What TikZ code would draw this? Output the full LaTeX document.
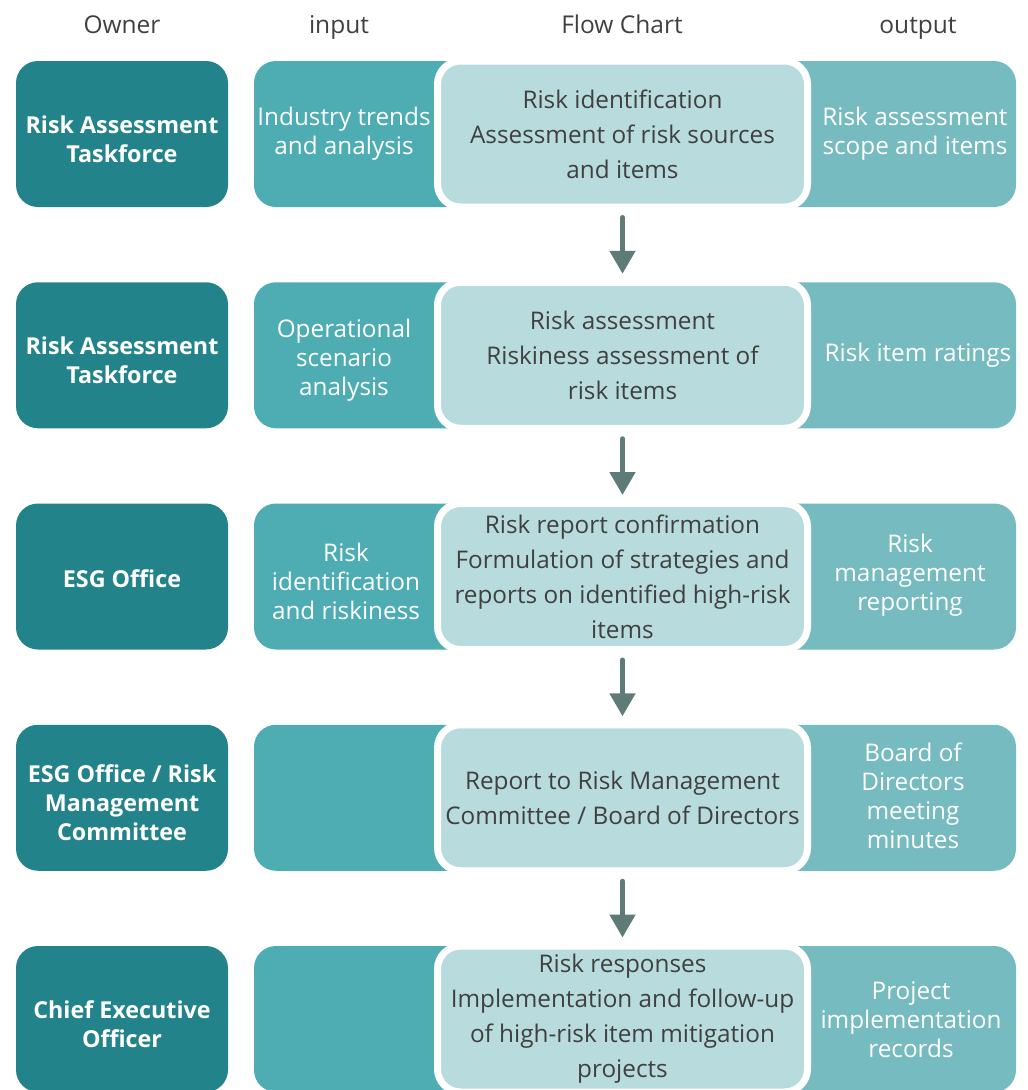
\documentclass[tikz,border=0pt]{standalone}
\usepackage{fontspec}
\setmainfont{Open Sans}
\usetikzlibrary{arrows.meta}
\definecolor{ownercol}{HTML}{23838A}
\definecolor{incol}{HTML}{4DADB3}
\definecolor{outcol}{HTML}{76BBBF}
\definecolor{flowcol}{HTML}{B8DBDD}
\definecolor{txtcol}{HTML}{404040}
\definecolor{arrcol}{HTML}{5E7B78}
\tikzset{
  x=1pt, y=-1pt,
  header/.style={text=txtcol, font=\fontsize{24.5}{28}\selectfont, inner sep=0pt, anchor=base},
  ownertext/.style={text=white, align=center, inner sep=0pt,
    font=\fontsize{23.3}{29}\selectfont\bfseries},
  sidetext/.style={text=white, align=center, inner sep=0pt,
    font=\fontsize{24.3}{29}\selectfont},
  flowbox/.style={fill=flowcol, draw=white, line width=7pt, rounded corners=23pt,
    minimum width=370pt, minimum height=146pt, inner sep=0pt, text=txtcol,
    align=center, font=\fontsize{24.3}{35}\selectfont},
  flowarrow/.style={draw=arrcol, line width=5pt, line cap=round,
    -{Triangle[length=23pt,width=25pt]}, shorten <=7pt, shorten >=5pt},
}
\begin{document}
\begin{tikzpicture}
\useasboundingbox (0,0) rectangle (1028,1090);
\clip (0,0) rectangle (1028,1090);

% column headers
\node[header] (hOwner) at (122,33) {Owner};
\node[header] (hInput) at (339,33) {input};
\node[header] (hFlow)  at (622,33) {Flow Chart};
\node[header] (hOut)   at (918,33) {output};

% owner, input and output bands, one set per row
\foreach \yc in {134,355.25,576.5,797.75,1019} {
  \fill[ownercol, rounded corners=22pt] (16,\yc-73) rectangle (228,\yc+73);
  \fill[incol, rounded corners=22pt] (254,\yc-73) rectangle (500,\yc+73);
  \fill[outcol, rounded corners=22pt] (760,\yc-73) rectangle (1016,\yc+73);
}

% owners
\node[ownertext] (o1) at (122,139)    {Risk Assessment\\Taskforce};
\node[ownertext] (o2) at (122,360.5)  {Risk Assessment\\Taskforce};
\node[ownertext] (o3) at (122,579)    {ESG Office};
\node[ownertext] (o4) at (122,802.5)  {ESG Office / Risk\\Management\\Committee};
\node[ownertext] (o5) at (122,1024)   {Chief Executive\\Officer};

% inputs
\node[sidetext] (i1) at (344,134) {Industry trends\\and analysis};
\node[sidetext] (i2) at (344,360) {Operational\\scenario\\analysis};
\node[sidetext] (i3) at (346,581) {Risk\\identification\\and riskiness};

% flow steps
\node[flowbox] (f1) at (622.5,134)    {Risk identification\\Assessment of risk sources\\and items};
\node[flowbox] (f2) at (622.5,355.25) {Risk assessment\\Riskiness assessment of\\risk items};
\node[flowbox] (f3) at (622.5,576.5)  {Risk report confirmation\\Formulation of strategies and\\reports on identified high-risk\\items};
\node[flowbox] (f4) at (622.5,797.75) {Report to Risk Management\\Committee / Board of Directors};
\node[flowbox] (f5) at (622.5,1019)   {Risk responses\\Implementation and follow-up\\of high-risk item mitigation\\projects};

% outputs
\node[sidetext] (u1) at (915,134) {Risk assessment\\scope and items};
\node[sidetext] (u2) at (918,355) {Risk item ratings};
\node[sidetext] (u3) at (910,575) {Risk\\management\\reporting};
\node[sidetext] (u4) at (913,796) {Board of\\Directors\\meeting\\minutes};
\node[sidetext] (u5) at (911,1020) {Project\\implementation\\records};

% flow arrows
\draw[flowarrow] (f1) -- (f2);
\draw[flowarrow] (f2) -- (f3);
\draw[flowarrow] (f3) -- (f4);
\draw[flowarrow] (f4) -- (f5);
\end{tikzpicture}
\end{document}
